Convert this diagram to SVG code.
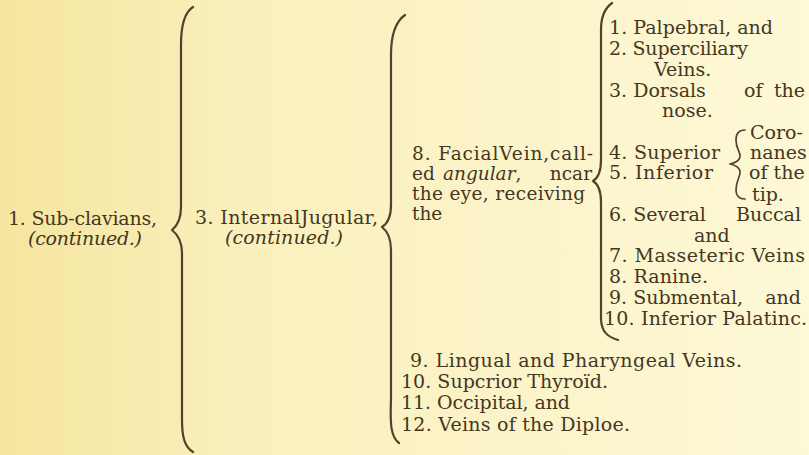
<svg xmlns="http://www.w3.org/2000/svg" width="809" height="455" viewBox="0 0 809 455">
<defs>
<linearGradient id="bg" x1="0" y1="0" x2="1" y2="0">
<stop offset="0" stop-color="#f5e59e"/>
<stop offset="0.3" stop-color="#faf0bd"/>
<stop offset="1" stop-color="#fdf8d6"/>
</linearGradient>
<style>
.t{font-family:"DejaVu Serif","Liberation Serif",serif;font-size:19px;fill:#45361f}
.f{font-size:18.5px}
.i{font-style:italic}
.e{text-anchor:end}
.b{fill:none;stroke:#54412c;stroke-width:2.2;stroke-linecap:round;stroke-linejoin:round}
.s{stroke-width:1.7}
</style>
</defs>
<rect width="809" height="455" fill="url(#bg)"/>

<g id="connectors">
<path class="b" d="M193,7 C185,12 181,25 181,45 L181,207 C181,219 177,226 172,230 C177,234 182,241 182,253 L182,420 C182,438 185,447 193,452"/>
<path class="b" d="M405,15 C395,22 391,35 391,55 L391,205 C391,217 387,224 382,227 C387,231 391,238 391,250 L391,400 C390,425 391,437 399,443"/>
<path class="b" d="M612,3 C605,8 601,16 601,30 L601,160 C601,172 598,178 593,181 C598,184 601,190 601,202 L601,318 C601,332 608,337 618,340"/>
<path class="b s" d="M745,130 C739,130 736,134 736,140 C736,150 741,152 740,157 C739,161 735,163 730,164 C735,165 739,167 740,171 C741,176 736,180 736,190 C736,196 739,199 745,199"/>
</g>

<g id="subclavians">
<text class="t" x="8" y="225" textLength="149">1. Sub-clavians,</text>
<text class="t i" x="28" y="245" textLength="114">(continued.)</text>
</g>

<g id="internal-jugular">
<text class="t" x="195" y="224" textLength="183">3. InternalJugular,</text>
<text class="t i" x="225" y="244" textLength="118">(continued.)</text>
</g>

<g id="facial-vein">
<text class="t f" x="412" y="160" textLength="181">8. FacialVein,call-</text>
<text class="t f" y="180"><tspan x="412">ed</tspan><tspan class="i" x="443">angular</tspan><tspan>,</tspan><tspan x="592" class="e">ncar</tspan></text>
<text class="t f" x="412" y="200" textLength="173">the eye, receiving</text>
<text class="t f" x="412" y="220">the</text>
</g>

<g id="facial-branches">
<text class="t" x="609" y="34" textLength="164">1. Palpebral, and</text>
<text class="t" x="609" y="55" textLength="139">2. Superciliary</text>
<text class="t" x="654" y="76">Veins.</text>
<text class="t" y="97"><tspan x="609">3. Dorsals</tspan><tspan x="744">of</tspan><tspan x="805" class="e">the</tspan></text>
<text class="t" x="662" y="117">nose.</text>
<text class="t" x="609" y="159" textLength="111">4. Superior</text>
<text class="t" x="609" y="179" textLength="104">5. Inferior</text>
<text class="t" y="221"><tspan x="609">6. Several</tspan><tspan x="801" class="e">Buccal</tspan></text>
<text class="t" x="694" y="242">and</text>
<text class="t" x="609" y="262" textLength="196">7. Masseteric Veins</text>
<text class="t" x="609" y="283" textLength="99">8. Ranine.</text>
<text class="t" y="304"><tspan x="609">9. Submental,</tspan><tspan x="801" class="e">and</tspan></text>
<text class="t" x="604" y="325" textLength="203">10. Inferior Palatinc.</text>
</g>

<g id="coronanes">
<text class="t" x="750" y="139">Coro-</text>
<text class="t" x="750" y="159">nanes</text>
<text class="t" x="749" y="179">of the</text>
<text class="t" x="752" y="201">tip.</text>
</g>

<g id="other-branches">
<text class="t" x="410" y="367" textLength="332">9. Lingual and Pharyngeal Veins.</text>
<text class="t" x="401" y="388" textLength="207">10. Supcrior Thyroïd.</text>
<text class="t" x="401" y="409" textLength="169">11. Occipital, and</text>
<text class="t" x="401" y="431" textLength="229">12. Veins of the Diploe.</text>
</g>
</svg>
